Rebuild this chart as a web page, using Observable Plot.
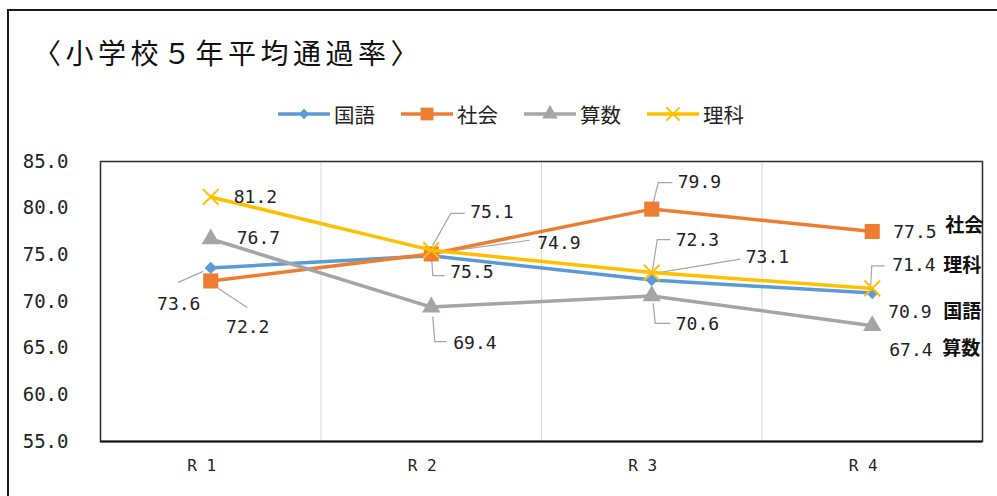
<!DOCTYPE html>
<html>
<head>
<meta charset="utf-8">
<script src="https://cdn.jsdelivr.net/npm/d3@7"></script>
<script src="https://cdn.jsdelivr.net/npm/@observablehq/plot@0.6"></script>
<style>
  html, body { margin: 0; padding: 0; background: #fff; }
  #wrap { position: relative; width: 997px; height: 496px; overflow: hidden; }
  #box { position: absolute; left: 7px; top: 9px; width: 1200px; height: 700px; border: 2px solid #1a1a1a; box-sizing: border-box; }
  #title { position: absolute; left: 33px; top: 32px; font-family: "Noto Sans CJK JP", sans-serif; font-size: 28px; letter-spacing: 4.5px; color: #111; line-height: 40px; white-space: nowrap; }
  #legend { position: absolute; left: 278px; top: 99px; display: flex; align-items: center; font-family: "Noto Sans CJK JP", sans-serif; font-size: 20.5px; color: #222; }
  #legend .item { display: flex; align-items: center; margin-right: 26px; }
  #legend svg { display: block; margin-right: 4px; }
  #chart { position: absolute; left: 0; top: 0; }
</style>
</head>
<body>
<div id="wrap">
  <div id="box"></div>
  <div id="chart"></div>
  <div id="title">〈小学校５年平均通過率〉</div>
  <div id="legend"></div>
</div>
<script>
// 年度区分と教科
const periods = ["R 1", "R 2", "R 3", "R 4"];
const subjects = ["国語", "社会", "算数", "理科"];

// 教科別の平均通過率（%）
const kokugo = [73.6, 74.9, 72.3, 70.9];
const shakai = [72.2, 75.1, 79.9, 77.5];
const sansu  = [76.7, 69.4, 70.6, 67.4];
const rika   = [81.2, 75.5, 73.1, 71.4];

// 縦軸の目盛
const yTicks = [55, 60, 65, 70, 75, 80, 85];

const seriesValues = [kokugo, shakai, sansu, rika];

// 系列ごとの見た目
const styles = {
  "国語": {color: "#5B9BD5", symbol: "diamond2", r: 5.5},
  "社会": {color: "#ED7D31", symbol: "square", r: 8.5},
  "算数": {color: "#A5A5A5", symbol: "triangle", r: 6.8},
  "理科": {color: "#FFC000", symbol: "times", r: 7.2}
};

// データラベルの配置（点からのピクセル差、引き出し線の折れ点）
const labelLayout = {
  "国語": [
    {dx: -32, dy: 36, anchor: "middle", leader: [[-7, 4], [-32, 15]]},
    {dx: 106, dy: -13, leader: [[4, -2], [99, -15]]},
    {dx: 24, dy: -40, leader: [[1, -8], [6, -40], [19, -40]]},
    {dx: 16, dy: 19, name: {dx: 71, dy: 19}}
  ],
  "社会": [
    {dx: 37, dy: 46, anchor: "middle", leader: [[8, 8], [37, 27]]},
    {dx: 39, dy: -42, leader: [[2, -8], [20, -40], [34, -40]]},
    {dx: 26, dy: -27, leader: [[2, -6], [7, -26], [21, -26]]},
    {dx: 21, dy: 1, name: {dx: 73, dy: -6}}
  ],
  "算数": [
    {dx: 26, dy: -1},
    {dx: 22, dy: 36, leader: [[2, 10], [4, 35], [16, 35]]},
    {dx: 24, dy: 28, leader: [[2, 8], [4, 28], [19, 28]]},
    {dx: 17, dy: 24, name: {dx: 70, dy: 23}}
  ],
  "理科": [
    {dx: 23, dy: 0},
    {dx: 19, dy: 22, leader: [[1, 9], [2, 26], [14, 26]]},
    {dx: 94, dy: -15, leader: [[4, 1], [89, -13]]},
    {dx: 20, dy: -23, leader: [[-1, -3], [0, -22], [13, -22]], name: {dx: 71, dy: -23}}
  ]
};

// 描画用の表
const rows = subjects.flatMap((s, si) =>
  seriesValues[si].map((v, i) => ({subject: s, xi: i + 1, period: periods[i], value: v}))
);
const labels = rows.map((d) => ({...d, ...labelLayout[d.subject][d.xi - 1]}));

const numFont = "DejaVu Sans Mono, monospace";
const cjkFont = "Noto Sans CJK JP, sans-serif";

// 引き出し線（スケールで点の位置を求め、そこから折れ線を引く）
function leaderLines(index, scales) {
  const sx = typeof scales.x === "function" ? scales.x : scales.x.apply;
  const sy = typeof scales.y === "function" ? scales.y : scales.y.apply;
  const g = d3.create("svg:g").attr("fill", "none").attr("stroke", "#A6A6A6").attr("stroke-width", 1.2);
  for (const L of labels) {
    if (!L.leader) continue;
    const px = sx(L.xi), py = sy(L.value);
    g.append("path").attr("d", "M" + L.leader.map(([a, b]) => `${px + a},${py + b}`).join("L"));
  }
  return g.node();
}

const marks = [
  // カテゴリ間の縦の区切り線
  Plot.ruleX(periods.slice(1), {x: (d, i) => i + 1.5, stroke: "#D9D9D9", strokeWidth: 1}),
  Plot.frame({stroke: "#2a2a2a", strokeWidth: 1.5}),
  Plot.ruleY([yTicks[0]], {stroke: "#111", strokeWidth: 2}),
  Plot.axisY({ticks: yTicks, tickSize: 0, tickPadding: 32, tickFormat: (d) => d.toFixed(1), label: null,
    fontSize: 19, fontFamily: numFont, fill: "#222"}),
  Plot.axisX({ticks: periods.map((_, i) => i + 1), tickSize: 0, tickPadding: 18, label: null,
    tickFormat: (d) => periods[d - 1], fontSize: 16, fontFamily: numFont, fill: "#222", dx: -9}),
  leaderLines
];

for (const s of subjects) {
  const st = styles[s];
  const data = rows.filter((d) => d.subject === s);
  marks.push(Plot.line(data, {x: "xi", y: "value", stroke: st.color, strokeWidth: 3.5}));
  if (st.symbol === "times") {
    marks.push(Plot.dot(data, {x: "xi", y: "value", symbol: st.symbol, r: st.r, stroke: st.color, strokeWidth: 2}));
  } else {
    marks.push(Plot.dot(data, {x: "xi", y: "value", symbol: st.symbol, r: st.r, fill: st.color, stroke: "none"}));
  }
}

for (const L of labels) {
  marks.push(Plot.text([L], {x: "xi", y: "value", text: (d) => d.value.toFixed(1),
    dx: L.dx, dy: L.dy, textAnchor: L.anchor || "start",
    fontFamily: numFont, fontSize: 18, fill: "#222"}));
  if (L.name) {
    marks.push(Plot.text([L], {x: "xi", y: "value", text: "subject",
      dx: L.name.dx, dy: L.name.dy, textAnchor: "start",
      fontFamily: cjkFont, fontSize: 19, fontWeight: "bold", fill: "#111"}));
  }
}

const chart = Plot.plot({
  width: 997,
  height: 496,
  marginLeft: 100,
  marginRight: 15,
  marginTop: 161,
  marginBottom: 55,
  style: {background: "transparent", overflow: "visible"},
  x: {type: "linear", domain: [0.5, periods.length + 0.5], axis: null},
  y: {domain: [yTicks[0], yTicks[yTicks.length - 1]], axis: null},
  marks
});
document.getElementById("chart").append(chart);

// 凡例
const legend = d3.select("#legend");
for (const s of subjects) {
  const st = styles[s];
  const item = legend.append("div").attr("class", "item");
  const svg = item.append("svg").attr("width", 52).attr("height", 20);
  svg.append("line").attr("x1", 0).attr("x2", 52).attr("y1", 10).attr("y2", 10)
    .attr("stroke", st.color).attr("stroke-width", 3.5);
  const symbolType = {diamond2: d3.symbolDiamond2, square: d3.symbolSquare, triangle: d3.symbolTriangle, times: d3.symbolTimes}[st.symbol];
  const r = st.r * 0.85;
  const path = svg.append("path").attr("transform", "translate(26,10)")
    .attr("d", d3.symbol(symbolType, Math.PI * r * r)());
  if (st.symbol === "times") path.attr("fill", "none").attr("stroke", st.color).attr("stroke-width", 2);
  else path.attr("fill", st.color);
  item.append("span").text(s);
}
</script>
</body>
</html>
